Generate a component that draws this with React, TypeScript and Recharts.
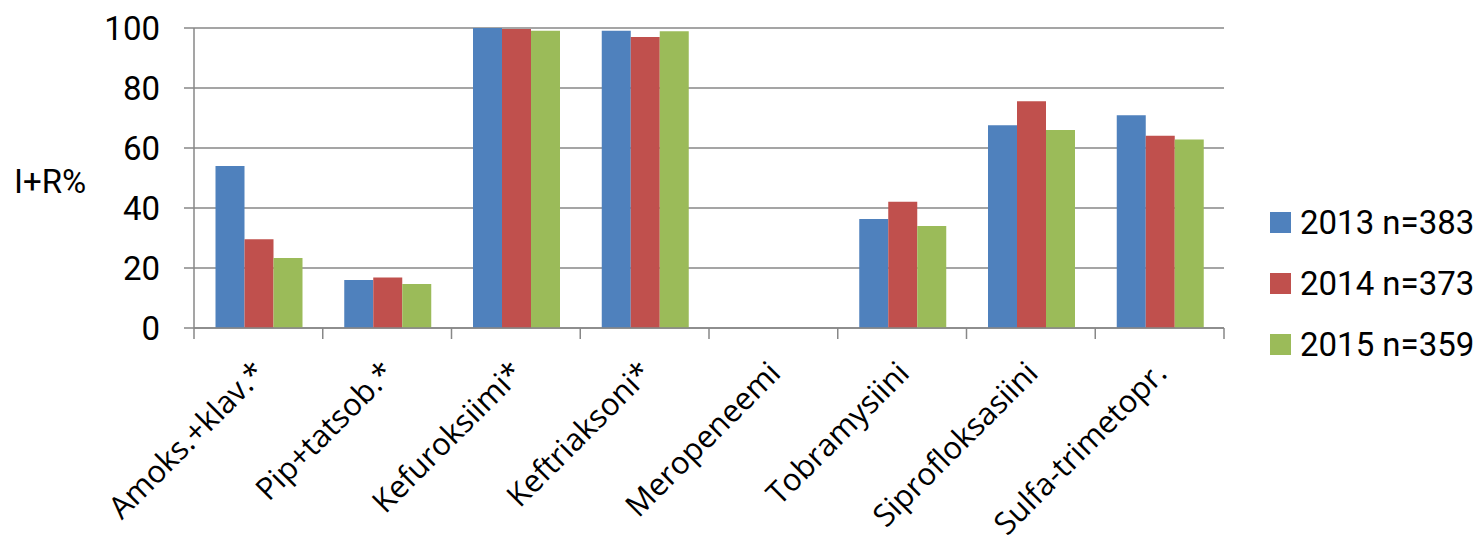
import { BarChart, Bar, XAxis, YAxis, CartesianGrid, Legend } from "recharts";

const categories = [
  "Amoks.+klav.*",
  "Pip+tatsob.*",
  "Kefuroksiimi*",
  "Keftriaksoni*",
  "Meropeneemi",
  "Tobramysiini",
  "Siprofloksasiini",
  "Sulfa-trimetopr.",
];

const values2013 = [54, 16, 100, 99.1, 0, 36.3, 67.6, 70.9];
const values2014 = [29.6, 16.8, 99.7, 97, 0, 42.1, 75.6, 64.1];
const values2015 = [23.3, 14.7, 99.1, 98.9, 0, 34, 66, 62.8];

const seriesNames = ["2013 n=383", "2014 n=373", "2015 n=359"];
const yTicks = [0, 20, 40, 60, 80, 100];

const COLORS = ["#4f81bd", "#c0504d", "#9bbb59"];
const GRID = "#878787";
const FONT = "Roboto, 'Liberation Sans', sans-serif";
const LABEL_FONT = "'Open Sans', 'Noto Sans', sans-serif";

const data = categories.map((name, i) => ({
  name,
  s2013: values2013[i],
  s2014: values2014[i],
  s2015: values2015[i],
}));

const XTick = (props: any) => {
  const { x, y, payload, index } = props;
  const half = payload.offset || 0;
  const tx = x + 9;
  const ty = y + 47;
  return (
    <g>
      <line x1={x - half} x2={x - half} y1={y} y2={y + 11} stroke={GRID} strokeWidth={1.5} />
      {index === categories.length - 1 && (
        <line x1={x + half} x2={x + half} y1={y} y2={y + 11} stroke={GRID} strokeWidth={1.5} />
      )}
      <text
        x={tx}
        y={ty}
        transform={`rotate(-45, ${tx}, ${ty})`}
        textAnchor="end"
        fontSize={31}
        fontFamily={LABEL_FONT}
        fill="#000"
      >
        {payload.value}
      </text>
    </g>
  );
};

const LegendBox = () => (
  <div style={{ fontFamily: FONT, fontSize: 33, color: "#000" }}>
    {seriesNames.map((name, i) => (
      <div key={name} style={{ display: "flex", alignItems: "center", height: 61 }}>
        <span style={{ width: 21, height: 21, background: COLORS[i], marginRight: 9 }} />
        <span>{name}</span>
      </div>
    ))}
  </div>
);

const YLabel = () => (
  <text x={14} y={193} fontSize={33} fontFamily={FONT} fill="#000">
    I+R%
  </text>
);

export default function App() {
  return (
    <div style={{ position: "absolute", left: 0, top: 0, background: "#fff" }}>
      <BarChart
        width={1483}
        height={548}
        data={data}
        margin={{ top: 28, right: 46, bottom: 20, left: 94 }}
        barGap={0}
        barCategoryGap="16.7%"
      >
        <CartesianGrid vertical={false} stroke={GRID} strokeWidth={1.5} />
        <XAxis
          dataKey="name"
          interval={0}
          height={200}
          tickSize={0}
          tickMargin={0}
          tick={<XTick />}
          axisLine={{ stroke: GRID, strokeWidth: 1.5 }}
          tickLine={false}
        />
        <YAxis
          width={100}
          domain={[0, 100]}
          ticks={yTicks}
          interval={0}
          tickSize={10}
          tickMargin={24}
          axisLine={{ stroke: GRID, strokeWidth: 1.5 }}
          tickLine={{ stroke: GRID, strokeWidth: 1.5 }}
          tick={{ fontSize: 33, fontFamily: FONT, fill: "#000" }}
          label={<YLabel />}
        />
        <Legend
          layout="vertical"
          verticalAlign="top"
          align="right"
          content={<LegendBox />}
          wrapperStyle={{ left: 1270, top: 192, width: 213 }}
        />
        <Bar dataKey="s2013" name={seriesNames[0]} fill={COLORS[0]} isAnimationActive={false} />
        <Bar dataKey="s2014" name={seriesNames[1]} fill={COLORS[1]} isAnimationActive={false} />
        <Bar dataKey="s2015" name={seriesNames[2]} fill={COLORS[2]} isAnimationActive={false} />
      </BarChart>
    </div>
  );
}
